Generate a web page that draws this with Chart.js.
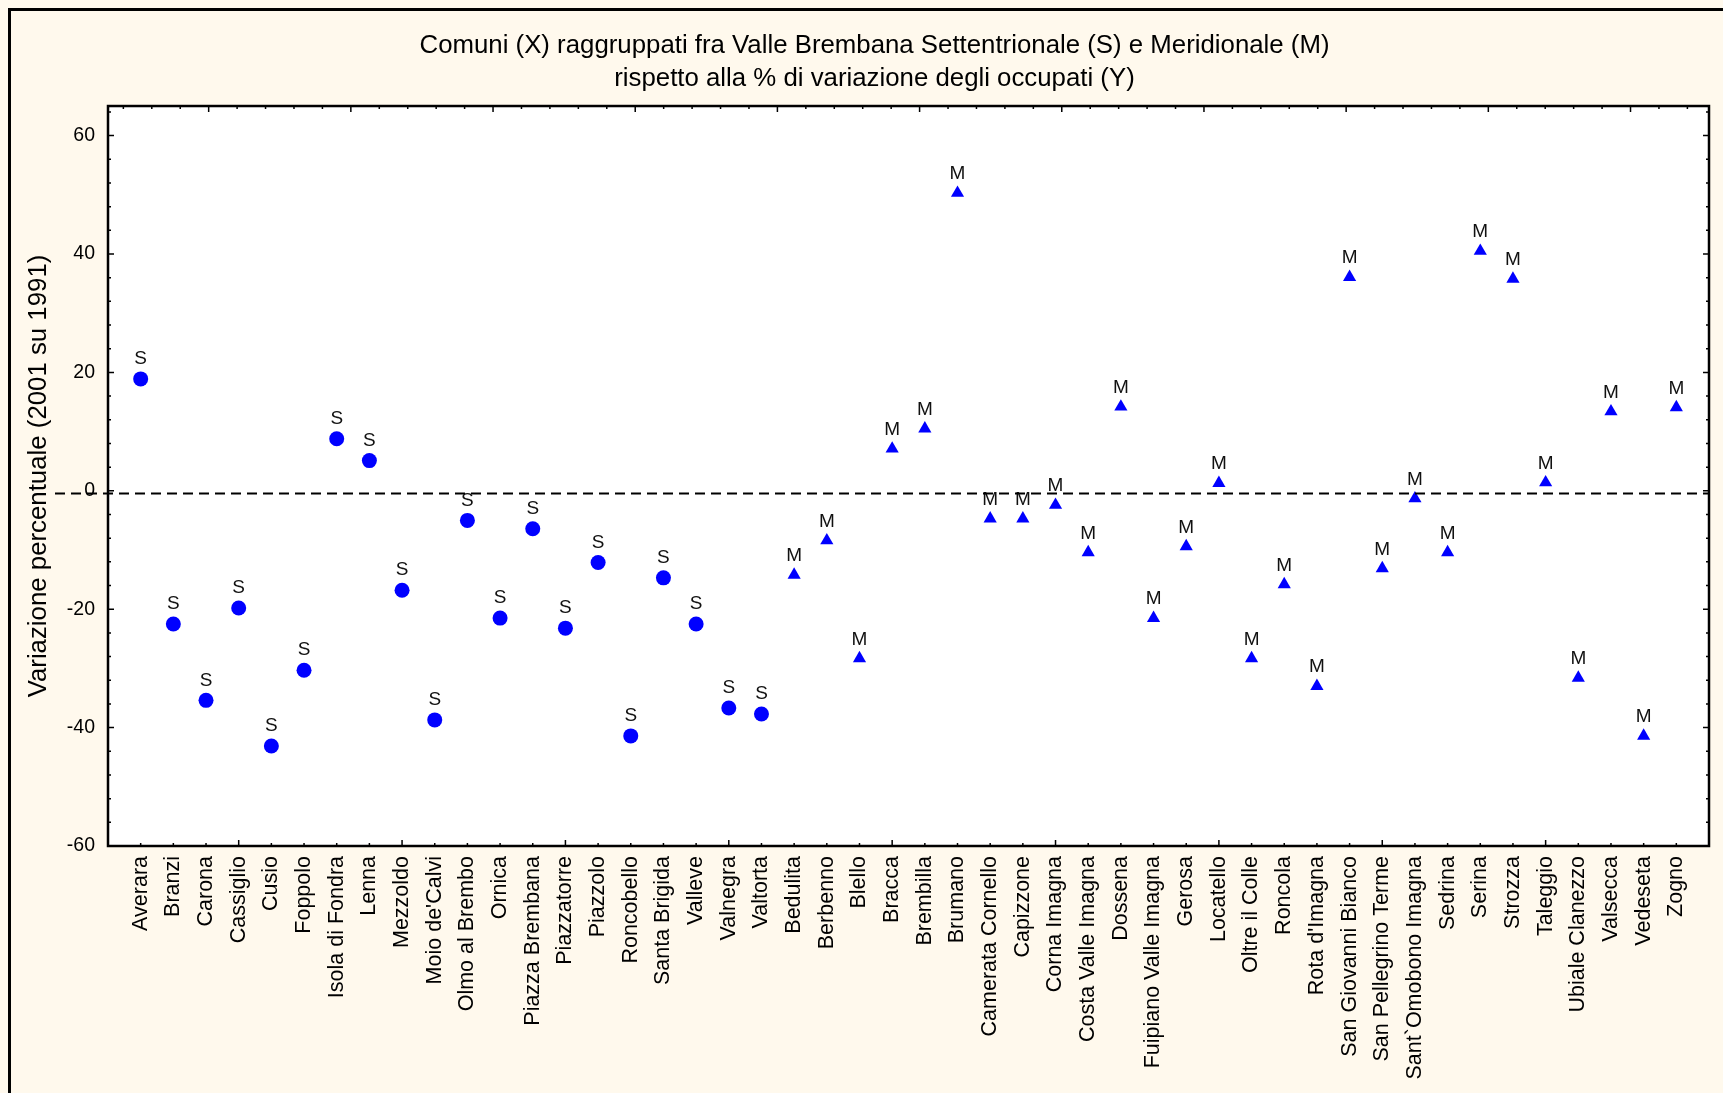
<!DOCTYPE html>
<html>
<head>
<meta charset="utf-8">
<script src="https://cdn.jsdelivr.net/npm/chart.js@4.4.0/dist/chart.umd.min.js"></script>
<style>
  body { margin: 0; background: #fff9ed; }
  #wrap { width: 1723px; height: 1093px; }
</style>
</head>
<body>
<div id="wrap"><canvas id="grafico"></canvas></div>
<script>
// Valle Brembana Settentrionale (S)
const comuniS = ['Averara', 'Branzi', 'Carona', 'Cassiglio', 'Cusio', 'Foppolo', 'Isola di Fondra', 'Lenna',
    'Mezzoldo', "Moio de'Calvi", 'Olmo al Brembo', 'Ornica', 'Piazza Brembana', 'Piazzatorre', 'Piazzolo',
    'Roncobello', 'Santa Brigida', 'Valleve', 'Valnegra', 'Valtorta'];
const variazioniS = [18.9, -22.5, -35.4, -19.8, -43.1, -30.3, 8.8, 5.1, -16.8, -38.7, -5.0, -21.5, -6.4, -23.2,
    -12.1, -41.4, -14.7, -22.5, -36.7, -37.7];

// Valle Brembana Meridionale (M)
const comuniM = ['Bedulita', 'Berbenno', 'Blello', 'Bracca', 'Brembilla', 'Brumano', 'Camerata Cornello',
    'Capizzone', 'Corna Imagna', 'Costa Valle Imagna', 'Dossena', 'Fuipiano Valle Imagna', 'Gerosa', 'Locatello',
    'Oltre il Colle', 'Roncola', "Rota d'Imagna", 'San Giovanni Bianco', 'San Pellegrino Terme',
    'Sant`Omobono Imagna', 'Sedrina', 'Serina', 'Strozza', 'Taleggio', 'Ubiale Clanezzo', 'Valsecca', 'Vedeseta',
    'Zogno'];
const variazioniM = [-14.2, -8.4, -28.3, 7.1, 10.5, 50.3, -4.7, -4.7, -2.4, -10.4, 14.2, -21.5, -9.4, 1.3, -28.3,
    -15.8, -33.0, 36.1, -13.1, -1.3, -10.4, 40.5, 35.8, 1.4, -31.6, 13.4, -41.4, 14.1];

const yTicks = [-60, -40, -20, 0, 20, 40, 60];
const lineaRiferimento = -0.45;

const categorie = comuniS.concat(comuniM);
const puntiS = comuniS.map((c, i) => ({ x: i + 1, y: variazioniS[i] }));
const puntiM = comuniM.map((c, i) => ({ x: comuniS.length + i + 1, y: variazioniM[i] }));

Chart.defaults.font.family = "'Liberation Sans', Arial, sans-serif";
Chart.defaults.color = '#000';

const decorazioni = {
    id: 'decorazioni',
    afterLayout(chart) {
        // il titolo nell'originale è un po' spostato a destra
        if (chart.titleBlock) {
            chart.titleBlock.left += 20;
            chart.titleBlock.right += 20;
        }
    },
    beforeDraw(chart) {
        const { ctx, width, height, chartArea: a } = chart;
        ctx.save();
        ctx.fillStyle = '#fff9ed';
        ctx.fillRect(0, 0, width, height);
        ctx.fillStyle = '#ffffff';
        ctx.fillRect(a.left, a.top, a.right - a.left, a.bottom - a.top);
        ctx.strokeStyle = '#000';
        ctx.lineWidth = 3;
        ctx.beginPath();
        ctx.moveTo(9.5, height);
        ctx.lineTo(9.5, 9.5);
        ctx.lineTo(width, 9.5);
        ctx.stroke();
        ctx.restore();
    },
    afterDatasetsDraw(chart) {
        const ctx = chart.ctx;
        ctx.save();
        ctx.fillStyle = '#111';
        ctx.font = "19px 'Liberation Sans', Arial, sans-serif";
        ctx.textAlign = 'center';
        ctx.textBaseline = 'middle';
        chart.data.datasets.forEach((ds, d) => {
            chart.getDatasetMeta(d).data.forEach(el => {
                ctx.fillText(ds.label, el.x, el.y - (ds.label === 'S' ? 20 : 19));
            });
        });
        ctx.restore();
    },
    afterDraw(chart) {
        const { ctx, chartArea: a, scales } = chart;
        ctx.save();
        ctx.strokeStyle = '#000';
        // riquadro
        ctx.lineWidth = 2.5;
        ctx.strokeRect(a.left, a.top, a.right - a.left, a.bottom - a.top);
        // tacche interne
        ctx.lineWidth = 1.5;
        ctx.beginPath();
        for (let v = -60; v <= 64; v += 4) {
            const y = scales.y.getPixelForValue(v);
            const l = v % 20 === 0 ? 6 : 3;
            ctx.moveTo(a.left, y); ctx.lineTo(a.left + l, y);
            ctx.moveTo(a.right, y); ctx.lineTo(a.right - l, y);
        }
        for (let i = 1; i <= categorie.length; i++) {
            const x = scales.x.getPixelForValue(i);
            const l = (i - 4) % 5 === 0 ? 6 : 3;
            ctx.moveTo(x, a.bottom); ctx.lineTo(x, a.bottom - l);
        }
        const passo = (a.right - a.left) / 56.3;
        for (let k = 0; a.left + 0.54 * passo + k * passo < a.right; k++) {
            const x = a.left + 0.54 * passo + k * passo;
            const l = (k - 3) % 5 === 0 ? 6 : 3;
            ctx.moveTo(x, a.top); ctx.lineTo(x, a.top + l);
        }
        ctx.stroke();
        // linea tratteggiata
        const yr = scales.y.getPixelForValue(lineaRiferimento);
        ctx.lineWidth = 2;
        ctx.setLineDash([10, 6]);
        ctx.beginPath();
        ctx.moveTo(55, yr);
        ctx.lineTo(a.right, yr);
        ctx.stroke();
        ctx.restore();
    }
};

const ctx = document.getElementById('grafico').getContext('2d');
new Chart(ctx, {
    type: 'scatter',
    data: {
        datasets: [
            {
                label: 'S',
                data: puntiS,
                pointStyle: 'circle',
                pointRadius: 7.5,
                backgroundColor: '#0000ff',
                borderColor: '#0000ff',
                borderWidth: 0
            },
            {
                label: 'M',
                data: puntiM,
                pointStyle: 'triangle',
                pointRadius: 7.6,
                backgroundColor: '#0000ff',
                borderColor: '#0000ff',
                borderWidth: 0
            }
        ]
    },
    options: {
        responsive: true,
        maintainAspectRatio: false,
        animation: false,
        layout: { padding: { left: 0, right: 14, top: 0, bottom: 0 } },
        plugins: {
            legend: { display: false },
            tooltip: { enabled: false },
            title: {
                display: true,
                text: ['Comuni (X) raggruppati fra Valle Brembana Settentrionale (S) e Meridionale (M)',
                    'rispetto alla % di variazione degli occupati (Y)'],
                color: '#000',
                font: { size: 25.8, weight: 'normal', lineHeight: 1.26 },
                padding: { top: 30, bottom: 11 }
            }
        },
        scales: {
            x: {
                type: 'linear',
                min: 0,
                max: categorie.length + 1,
                afterBuildTicks: s => { s.ticks = categorie.map((c, i) => ({ value: i + 1 })); },
                ticks: {
                    autoSkip: false,
                    minRotation: 90,
                    maxRotation: 90,
                    padding: 10,
                    color: '#000',
                    font: { size: 21.5 },
                    callback: v => categorie[v - 1]
                },
                grid: { display: false, drawTicks: false },
                border: { display: false },
                afterFit: s => { s.height = 247; }
            },
            y: {
                min: -60,
                max: 65,
                afterBuildTicks: s => { s.ticks = yTicks.map(v => ({ value: v })); },
                ticks: { padding: 13, color: '#000', font: { size: 19.5 } },
                grid: { display: false, drawTicks: false },
                border: { display: false },
                title: {
                    display: true,
                    text: 'Variazione percentuale (2001 su 1991)',
                    color: '#000',
                    font: { size: 25.8 },
                    padding: { top: 23, bottom: 0 }
                },
                afterFit: s => { s.width = 108; }
            }
        }
    },
    plugins: [decorazioni]
});
</script>
</body>
</html>
